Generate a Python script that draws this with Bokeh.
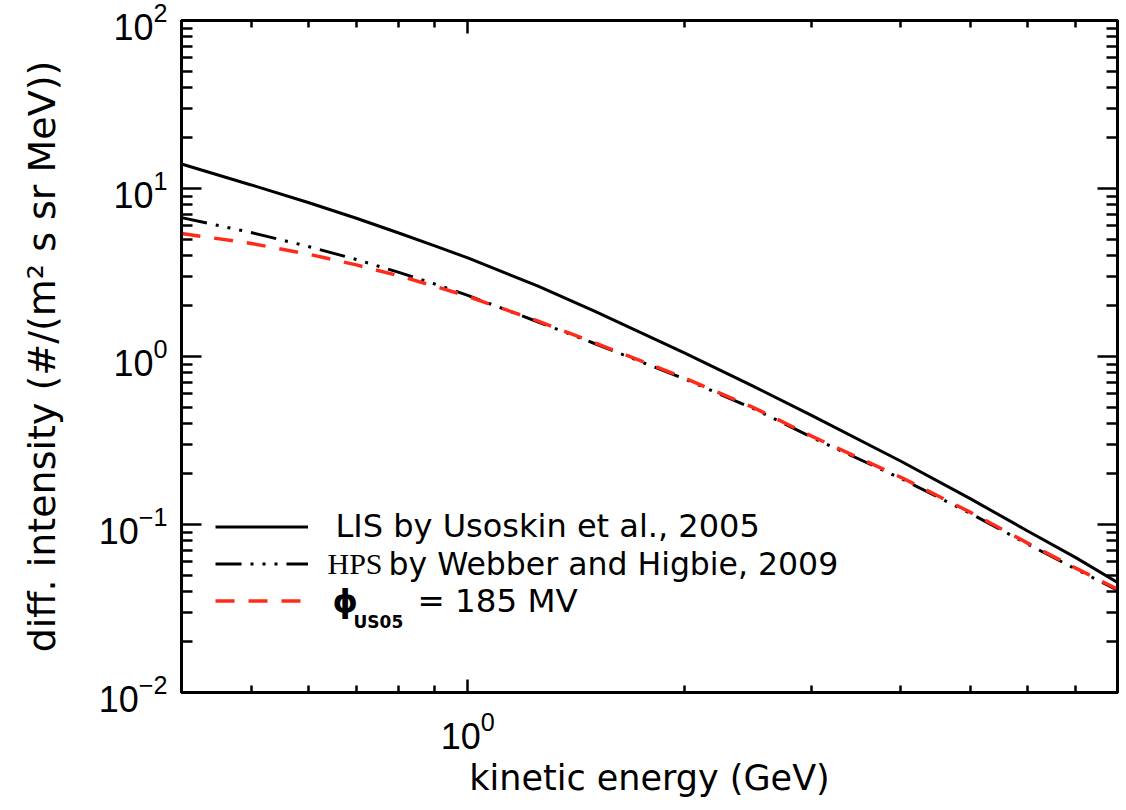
from bokeh.plotting import figure
from bokeh.models import Range1d, LogAxis, FixedTicker, Legend, LegendItem, Label
from bokeh.core.properties import value
from bokeh.embed import file_html
from bokeh.resources import INLINE

# ---- data ----
energy = [0.4, 0.5, 0.6, 0.7, 0.8, 0.9, 1.0, 1.25, 1.5, 2.0, 2.5, 3.0, 4.0, 5.0, 6.0, 7.0, 8.0]
lis_usoskin = [14.0, 10.5, 8.25, 6.65, 5.45, 4.56, 3.86, 2.63, 1.86, 1.05, 0.662, 0.448, 0.238, 0.142, 0.0915, 0.0635, 0.0452]
hps_webber = [6.71, 5.47, 4.52, 3.78, 3.18, 2.70, 2.31, 1.61, 1.195, 0.736, 0.488, 0.332, 0.188, 0.116, 0.0765, 0.0543, 0.0407]
phi_185 = [5.40, 4.71, 4.07, 3.51, 3.03, 2.62, 2.28, 1.63, 1.21, 0.745, 0.495, 0.337, 0.191, 0.118, 0.0775, 0.0550, 0.0412]

x_major = [1.0]
x_minor = [0.5, 0.6, 0.7, 0.8, 0.9, 2, 3, 4, 5, 6, 7]
y_major = [0.01, 0.1, 1.0, 10.0, 100.0]
y_minor = [m * d for d in [0.01, 0.1, 1.0, 10.0] for m in range(2, 10)]

legend_lis = "LIS by Usoskin et al., 2005"
legend_hps_a = "HPS"
legend_hps_b = "by Webber and Higbie, 2009"
legend_phi = "\u03d5"
legend_phi_sub = "US05"
legend_phi_val = "= 185 MV"

SANS = "Liberation Sans"
WIDE = "DejaVu Sans"

p = figure(width=1126, height=810, x_axis_type="log", y_axis_type="log",
           x_range=Range1d(0.4, 8.0), y_range=Range1d(0.01, 100.0),
           output_backend="svg", toolbar_location=None,
           min_border_left=181, min_border_right=9, min_border_top=20, min_border_bottom=118,
           x_axis_label="kinetic energy (GeV)",
           y_axis_label="diff. intensity (#/(m\u00b2 s sr MeV))")
p.xgrid.visible = False
p.ygrid.visible = False
p.background_fill_color = "white"
p.border_fill_color = "white"
p.outline_line_color = "black"
p.outline_line_width = 3


def style(ax, major_in, minor_in, labels=True):
    ax.axis_line_width = 3
    ax.axis_line_color = "black"
    ax.major_tick_in = major_in
    ax.major_tick_out = 0
    ax.minor_tick_in = minor_in
    ax.minor_tick_out = 0
    ax.major_tick_line_width = 2.5
    ax.minor_tick_line_width = 2.5
    ax.major_tick_line_color = "black"
    ax.minor_tick_line_color = "black"
    if labels:
        ax.major_label_text_font = SANS
        ax.major_label_text_font_size = "36px"
        ax.major_label_text_color = "black"
        ax.axis_label_text_font = WIDE
        ax.axis_label_text_font_style = "normal"
        ax.axis_label_text_color = "black"
    else:
        ax.major_label_text_font_size = "2px"
        ax.major_label_text_alpha = 0
        ax.major_label_standoff = 0


xb = p.xaxis[0]
xb.ticker = FixedTicker(ticks=x_major, minor_ticks=x_minor)
style(xb, 13, 7)
xb.axis_label_text_font_size = "35px"
xb.major_label_standoff = 18
xb.axis_label_standoff = 6

yl = p.yaxis[0]
yl.ticker = FixedTicker(ticks=y_major, minor_ticks=y_minor)
style(yl, 20, 11)
yl.axis_label_text_font_size = "38px"
yl.major_label_standoff = 14
yl.axis_label_standoff = 32

xt = LogAxis(ticker=FixedTicker(ticks=x_major, minor_ticks=x_minor))
style(xt, 13, 7, labels=False)
p.add_layout(xt, "above")

yr = LogAxis(ticker=FixedTicker(ticks=y_major, minor_ticks=y_minor))
style(yr, 20, 11, labels=False)
p.add_layout(yr, "right")

r_lis = p.line(energy, lis_usoskin, line_color="black", line_width=3)
r_hps = p.line(energy, hps_webber, line_color="black", line_width=3,
               line_dash="26 9 3 9 3 9 3 9")
r_phi = p.line(energy, phi_185, line_color="#ff2a1a", line_width=3.5,
               line_dash="19 14")

legend = Legend(items=[LegendItem(label=value(" "), renderers=[r_lis]),
                       LegendItem(label=value(" "), renderers=[r_hps]),
                       LegendItem(label=value(" "), renderers=[r_phi])],
                location=(34, 73), orientation="vertical",
                glyph_width=93, glyph_height=37, spacing=0, padding=0, margin=0,
                label_standoff=2, label_width=10, label_height=10,
                label_text_font_size="8px", label_text_alpha=0,
                border_line_alpha=0, background_fill_alpha=0)
p.add_layout(legend)


def lab(x, y, text, font, size, style="normal"):
    p.add_layout(Label(x=x, y=y, x_units="screen", y_units="screen", text=text,
                       text_font=font, text_font_size=size, text_font_style=style,
                       text_baseline="middle", text_align="left", text_color="black"))


lab(154, 167, legend_lis, WIDE, "32px")
lab(146, 129, legend_hps_a, "Liberation Serif", "30px")
lab(207, 129, legend_hps_b, WIDE, "31.5px")
lab(151, 92, legend_phi, WIDE, "32px", "bold")
lab(172, 71, legend_phi_sub, WIDE, "17px", "bold")
lab(236, 92, legend_phi_val, WIDE, "32.5px")

open("out.html", "w").write(file_html(p, INLINE))
